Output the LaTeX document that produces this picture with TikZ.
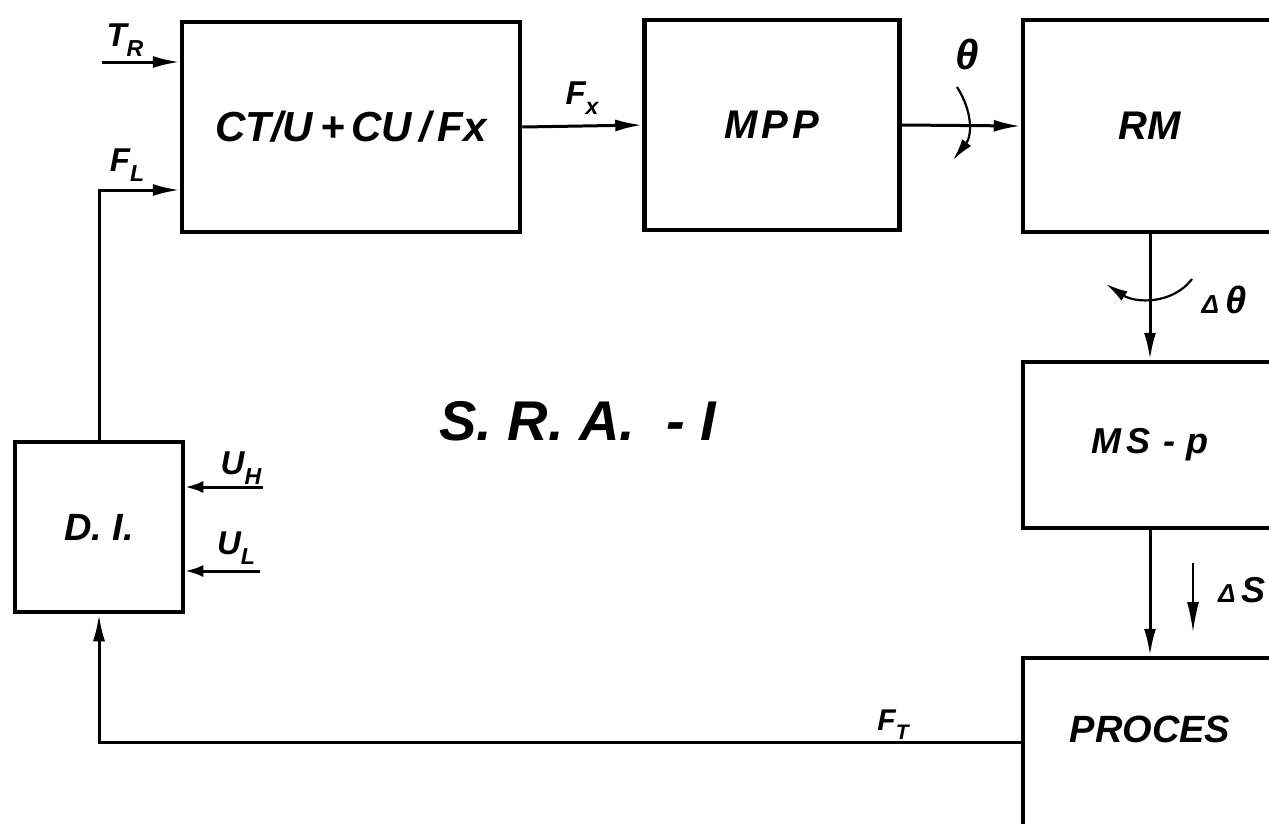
\documentclass[tikz,border=0pt]{standalone}
\usepackage{fontspec}
\usepackage{graphicx}
\setmainfont{Liberation Sans}
\usetikzlibrary{arrows.meta}
\newcommand\lsub[1]{\raisebox{-0.3em}{\scalebox{0.7}{#1}}}
\newcommand\fsz[1]{\fontsize{#1}{#1}\selectfont}
\begin{document}
\begin{tikzpicture}[x=1pt,y=-1pt,
  blk/.style={draw,line width=4.5pt,rectangle,inner sep=0pt,font=\bfseries\itshape\fsz{40}},
  conn/.style={line width=3pt,-{Latex[length=27pt,width=12pt]}},
  inarr/.style={line width=3pt,-{Latex[length=18pt,width=12pt]}},
  thinarr/.style={line width=2.2pt,-{Latex[length=22pt,width=11pt]}},
  lab/.style={font=\bfseries\itshape\fsz{33},inner sep=0pt},
  txt/.style={inner sep=0pt}]
\useasboundingbox (0,0) rectangle (1269,823);
\clip (0,0) rectangle (1269,823);
% blocks
\node[blk,minimum width=338pt,minimum height=210pt,font=\bfseries\itshape\fsz{42}] (ct) at (351,127) {CT/U\,+\,CU\,/\,Fx};
\node[blk,minimum width=255pt,minimum height=210pt] (mpp) at (772,125) {M\hspace{.1em}P\hspace{.1em}P};
\node[blk,minimum width=254pt,minimum height=212pt] (rm) at (1150,126) {RM};
\node[blk,minimum width=254pt,minimum height=166pt,font=\bfseries\itshape\fsz{36}] (msp) at (1150,445) {M\,S\,\,-\,\,p};
\node[blk,minimum width=254pt,minimum height=250pt] (proc) at (1150,783) {};
\node[txt,font=\bfseries\itshape\fsz{38}] (proct) at (1150,729) {PROCES};
\node[blk,minimum width=168pt,minimum height=170pt,font=\bfseries\itshape\fsz{38}] (di) at (99,527) {D. I.};
\node[txt,font=\bfseries\itshape\fsz{56}] (sra) at (578,421) {S. R. A.\ \ - I};
% connectors
\coordinate (trs) at (102,62);
\draw[conn] (trs) -- (trs -| ct.west);
\coordinate (flc) at (99,190);
\draw[conn] (di.north) |- (flc -| ct.west);
\draw[conn] (ct.east) -- (mpp.west);
\draw[conn] (mpp.east) -- (rm.west);
\draw[conn] (rm.south) -- (msp.north);
\draw[conn] (msp.south) -- (proc.north);
\coordinate (fty) at (1023,742);
\draw[conn] (fty -| proc.west) -| (di.south);
\coordinate (uhs) at (263,487);
\draw[inarr] (uhs) -- (uhs -| di.east);
\coordinate (uls) at (260,571);
\draw[inarr] (uls) -- (uls -| di.east);
% rotation / displacement arrows
\draw[thinarr] (957,87) .. controls (973,112) and (972,136) .. (953,160);
\draw[thinarr] (1192,279) .. controls (1172,305) and (1135,303) .. (1106,284);
\draw[line width=1.8pt,-{Latex[length=30pt,width=12pt]}] (1193,563) -- (1193,632);
% labels
\node[lab] (trl) at (125,40) {T\lsub{R}};
\node[lab] (fll) at (127,165) {F\lsub{L}};
\node[lab] (fxl) at (582,98) {F\lsub{x}};
\node[lab,font=\bfseries\itshape\fsz{42}] (thl) at (967,54) {θ};
\node[lab,font=\bfseries\itshape\fsz{38}] (dthl) at (1224,300) {{\fsz{26}Δ}\,θ};
\node[lab,anchor=west,font=\bfseries\itshape\fsz{36}] (dsl) at (1218,590) {{\fsz{26}Δ}\,S};
\node[lab,font=\bfseries\itshape\fsz{30}] (ftl) at (893,725) {F\lsub{T}};
\node[lab] (uhl) at (241,468) {U\lsub{H}};
\node[lab] (ull) at (236,548) {U\lsub{L}};
\end{tikzpicture}
\end{document}
